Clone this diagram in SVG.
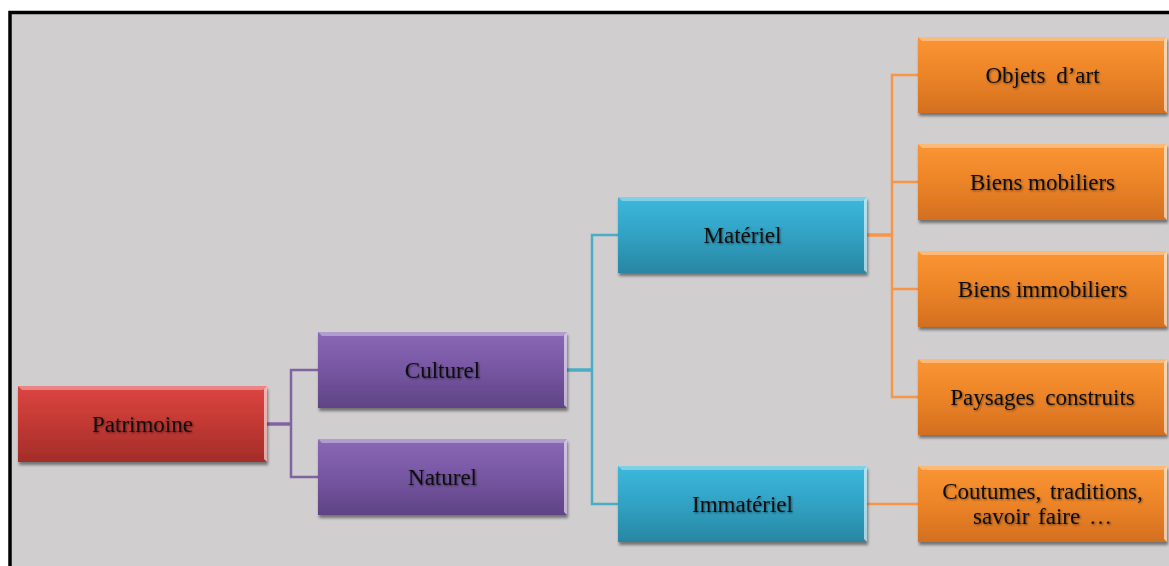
<svg xmlns="http://www.w3.org/2000/svg" width="1169" height="566" viewBox="0 0 1169 566">
<defs>
<linearGradient id="gRed" x1="0" y1="0" x2="0" y2="1">
<stop offset="0" stop-color="#dc4541"/><stop offset="0.5" stop-color="#c23833"/><stop offset="1" stop-color="#a22d2a"/>
</linearGradient>
<linearGradient id="gPur" x1="0" y1="0" x2="0" y2="1">
<stop offset="0" stop-color="#8a68b6"/><stop offset="0.5" stop-color="#7656a2"/><stop offset="1" stop-color="#5e4484"/>
</linearGradient>
<linearGradient id="gBlu" x1="0" y1="0" x2="0" y2="1">
<stop offset="0" stop-color="#3cb8dc"/><stop offset="0.5" stop-color="#31a2c4"/><stop offset="1" stop-color="#2886a2"/>
</linearGradient>
<linearGradient id="gOra" x1="0" y1="0" x2="0" y2="1">
<stop offset="0" stop-color="#fb9532"/><stop offset="0.5" stop-color="#ec8428"/><stop offset="1" stop-color="#d36f1f"/>
</linearGradient>
<filter id="sh" x="-5%" y="-10%" width="115%" height="130%">
<feGaussianBlur in="SourceAlpha" stdDeviation="1.5"/>
<feOffset dx="1" dy="3" result="b"/>
<feComponentTransfer><feFuncA type="linear" slope="0.45"/></feComponentTransfer>
<feMerge><feMergeNode/><feMergeNode in="SourceGraphic"/></feMerge>
</filter>
<filter id="ts" x="-10%" y="-30%" width="120%" height="160%">
<feGaussianBlur in="SourceAlpha" stdDeviation="1"/>
<feOffset dx="0.5" dy="1" result="b"/>
<feComponentTransfer><feFuncA type="linear" slope="0.5"/></feComponentTransfer>
<feMerge><feMergeNode/><feMergeNode in="SourceGraphic"/></feMerge>
</filter>
</defs>
<style>
.lbl{font-family:"Liberation Serif","Times New Roman",serif;font-size:23px;fill:#111;text-anchor:middle;filter:url(#ts)}
.box{filter:url(#sh)}
.hl{fill:#ffffff;opacity:0.35}
.hr{fill:#ffffff;opacity:0.6}
.c{fill:none;stroke-linejoin:miter}
.cp{stroke:#8064a2}
.cb{stroke:#4bacc6}
.co{stroke:#f79646}
</style>
<rect x="0" y="0" width="1169" height="566" fill="#ffffff"/>
<rect x="10" y="12.5" width="1175" height="570" fill="#d0cecf" stroke="#000000" stroke-width="3.5"/>

<g id="connectors">
<path class="c cp" stroke-width="3.5" d="M267 424 H291"/>
<path class="c cp" stroke-width="2.5" d="M318 370 H291 V477 H318"/>
<path class="c cb" stroke-width="3.5" d="M567 370 H592"/>
<path class="c cb" stroke-width="2.5" d="M618 235 H592 V504 H618"/>
<path class="c co" stroke-width="3.5" d="M866 235 H892"/>
<path class="c co" stroke-width="2.5" d="M918 75 H892 V397 H918 M892 182 H918 M892 289 H918"/>
<path class="c co" stroke-width="2.5" d="M866 504 H918"/>
</g>

<g id="patrimoine">
<rect class="box" x="18" y="386" width="249" height="76" fill="url(#gRed)"/>
<polygon class="hl" points="18,386 267,386 263,390 22,390"/>
<polygon class="hr" points="267,386 267,462 264,459 264,389"/>
<text class="lbl" x="142.5" y="432">Patrimoine</text>
</g>

<g id="culturel">
<rect class="box" x="318" y="332" width="249" height="76" fill="url(#gPur)"/>
<polygon class="hl" points="318,332 567,332 563,336 322,336"/>
<polygon class="hr" points="567,332 567,408 564,405 564,335"/>
<text class="lbl" x="442.5" y="378">Culturel</text>
</g>

<g id="naturel">
<rect class="box" x="318" y="439" width="249" height="76" fill="url(#gPur)"/>
<polygon class="hl" points="318,439 567,439 563,443 322,443"/>
<polygon class="hr" points="567,439 567,515 564,512 564,442"/>
<text class="lbl" x="442.5" y="485">Naturel</text>
</g>

<g id="materiel">
<rect class="box" x="618" y="197" width="249" height="76" fill="url(#gBlu)"/>
<polygon class="hl" points="618,197 867,197 863,201 622,201"/>
<polygon class="hr" points="867,197 867,273 864,270 864,200"/>
<text class="lbl" x="742.5" y="243">Matériel</text>
</g>

<g id="immateriel">
<rect class="box" x="618" y="466" width="249" height="76" fill="url(#gBlu)"/>
<polygon class="hl" points="618,466 867,466 863,470 622,470"/>
<polygon class="hr" points="867,466 867,542 864,539 864,469"/>
<text class="lbl" x="742.5" y="512">Immatériel</text>
</g>

<g id="objets">
<rect class="box" x="918" y="37" width="249" height="76" fill="url(#gOra)"/>
<polygon class="hl" points="918,37 1167,37 1163,41 922,41"/>
<polygon class="hr" points="1167,37 1167,113 1164,110 1164,40"/>
<text class="lbl" x="1042.5" y="83" word-spacing="5">Objets d’art</text>
</g>

<g id="mobiliers">
<rect class="box" x="918" y="144" width="249" height="76" fill="url(#gOra)"/>
<polygon class="hl" points="918,144 1167,144 1163,148 922,148"/>
<polygon class="hr" points="1167,144 1167,220 1164,217 1164,147"/>
<text class="lbl" x="1042.5" y="190">Biens mobiliers</text>
</g>

<g id="immobiliers">
<rect class="box" x="918" y="251" width="249" height="76" fill="url(#gOra)"/>
<polygon class="hl" points="918,251 1167,251 1163,255 922,255"/>
<polygon class="hr" points="1167,251 1167,327 1164,324 1164,254"/>
<text class="lbl" x="1042.5" y="297">Biens immobiliers</text>
</g>

<g id="paysages">
<rect class="box" x="918" y="359" width="249" height="76" fill="url(#gOra)"/>
<polygon class="hl" points="918,359 1167,359 1163,363 922,363"/>
<polygon class="hr" points="1167,359 1167,435 1164,432 1164,362"/>
<text class="lbl" x="1042.5" y="405" word-spacing="5">Paysages construits</text>
</g>

<g id="coutumes">
<rect class="box" x="918" y="466" width="249" height="76" fill="url(#gOra)"/>
<polygon class="hl" points="918,466 1167,466 1163,470 922,470"/>
<polygon class="hr" points="1167,466 1167,542 1164,539 1164,469"/>
<text class="lbl" x="1042.5" y="499" word-spacing="3">Coutumes, traditions,</text>
<text class="lbl" x="1042.5" y="524" word-spacing="3">savoir faire …</text>
</g>
</svg>
